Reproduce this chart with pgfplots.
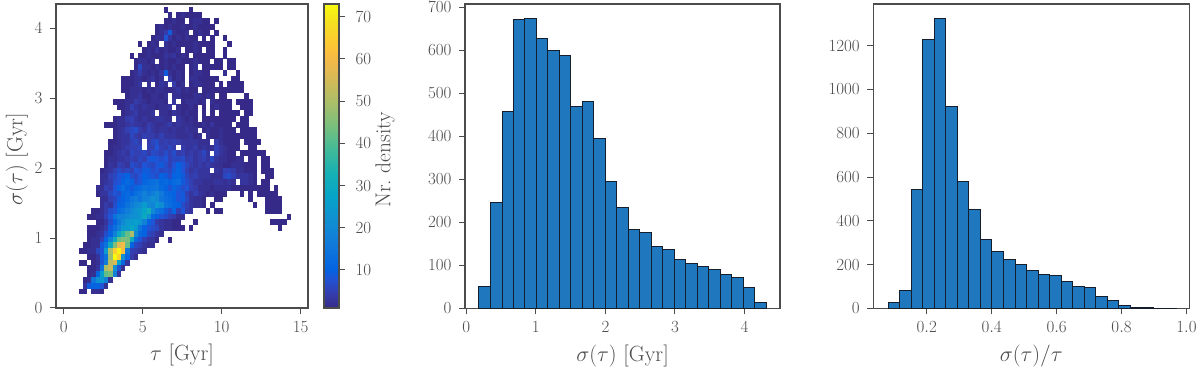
\RequirePackage{fix-cm}
\documentclass[border=0pt]{standalone}
\usepackage{pgfplots}
\usepackage{pgfplotstable}
\pgfplotsset{compat=1.18}
\definecolor{txt}{gray}{0.3}
\definecolor{barblue}{RGB}{31,119,190}
\definecolor{baredge}{RGB}{20,30,45}

% one heat map cell, 1pt = 1px of the reference
\pgfdeclareplotmark{cell}{%
  \pgfpathrectangle{\pgfpoint{-2.16pt}{-2.92pt}}{\pgfpoint{4.32pt}{5.84pt}}\pgfusepathqfill}

\pgfplotsset{
  colormap={parula}{
    rgb(1)=(.2081,.1663,.5292) rgb(4)=(.2081,.2386,.6771) rgb(7)=(.1253,.3242,.8303)
    rgb(9)=(.0117,.3875,.8820) rgb(14)=(.0629,.4737,.8554) rgb(19)=(.0641,.5570,.8240)
    rgb(24)=(.0231,.6418,.7913) rgb(29)=(.0843,.6928,.7062) rgb(34)=(.2586,.7317,.5954)
    rgb(39)=(.4871,.7491,.4840) rgb(44)=(.6834,.7435,.4044) rgb(49)=(.8507,.7299,.3360)
    rgb(52)=(.9450,.7261,.2886) rgb(54)=(.9938,.7455,.2403) rgb(57)=(.9880,.8066,.1794)
    rgb(60)=(.9626,.8705,.1309) rgb(64)=(.9763,.9831,.0538)},
  panel/.style={
    scale only axis,
    axis line style={txt,line width=1.2pt},
    tick style={txt,line width=1pt},
    tick align=outside,
    major tick length=6pt,
    xtick pos=bottom, ytick pos=left,
    tick label style={txt,font=\fontsize{17}{20}\selectfont},
    xticklabel style={yshift=-4pt},
    yticklabel style={xshift=-4pt},
    label style={txt,font=\fontsize{22}{26}\selectfont},
    scaled ticks=false,
    /pgf/number format/1000 sep={},
    xlabel style={at={(axis description cs:0.5,-0.155)},anchor=center},
  },
  histbar/.style={ybar interval,fill=barblue,draw=baredge,line width=1pt},
}

% bin index (i: tau, j: sigma) and count of each non empty cell
\pgfplotstableread{
i j c
20 49 1
26 49 1
21 48 1
23 48 1
24 48 2
25 48 1
26 48 1
27 48 1
28 48 1
20 47 1
21 47 1
22 47 2
23 47 1
24 47 1
26 47 1
27 47 2
28 47 2
29 47 1
30 47 1
32 47 1
18 46 1
19 46 2
20 46 1
21 46 2
22 46 1
23 46 1
24 46 2
25 46 1
26 46 1
27 46 2
28 46 1
29 46 1
30 46 1
31 46 1
18 45 1
19 45 2
20 45 4
21 45 9
22 45 2
23 45 1
24 45 1
25 45 2
27 45 1
28 45 2
29 45 1
30 45 1
32 45 1
17 44 1
18 44 2
19 44 2
20 44 8
21 44 3
22 44 1
23 44 2
24 44 1
25 44 2
26 44 1
27 44 1
29 44 1
31 44 1
34 44 1
14 43 1
16 43 1
17 43 2
18 43 1
20 43 2
21 43 1
22 43 2
23 43 1
24 43 1
25 43 1
26 43 1
27 43 2
28 43 1
29 43 1
30 43 1
31 43 1
35 43 1
15 42 1
16 42 2
17 42 1
18 42 3
19 42 1
20 42 2
21 42 1
22 42 1
23 42 2
25 42 1
26 42 1
27 42 2
28 42 1
30 42 1
31 42 1
34 42 1
12 41 1
14 41 1
15 41 1
16 41 2
17 41 1
18 41 1
19 41 1
20 41 3
21 41 2
22 41 3
23 41 1
24 41 2
25 41 1
27 41 1
28 41 1
29 41 1
30 41 1
31 41 1
34 41 1
13 40 1
14 40 2
15 40 2
16 40 1
17 40 2
19 40 1
20 40 2
21 40 1
22 40 1
23 40 2
24 40 1
25 40 1
26 40 1
27 40 2
28 40 1
29 40 1
30 40 1
32 40 1
33 40 1
35 40 1
36 40 1
13 39 1
14 39 6
15 39 2
16 39 2
17 39 1
18 39 2
19 39 1
20 39 2
21 39 1
22 39 2
23 39 1
24 39 1
26 39 1
27 39 2
29 39 1
30 39 1
31 39 1
32 39 1
33 39 1
35 39 1
36 39 1
12 38 1
13 38 2
14 38 4
15 38 2
16 38 1
17 38 2
18 38 1
19 38 3
20 38 9
21 38 2
22 38 1
23 38 2
24 38 1
26 38 1
27 38 2
28 38 2
29 38 1
30 38 1
34 38 2
37 38 1
10 37 1
11 37 1
12 37 1
13 37 2
14 37 2
15 37 1
16 37 2
17 37 3
18 37 1
19 37 2
21 37 4
22 37 1
23 37 2
24 37 1
26 37 2
27 37 2
28 37 1
29 37 1
30 37 1
31 37 1
32 37 1
36 37 1
37 37 1
10 36 1
11 36 1
12 36 1
13 36 2
14 36 3
16 36 2
18 36 1
19 36 3
20 36 2
22 36 4
23 36 1
24 36 2
26 36 1
27 36 2
28 36 2
29 36 1
30 36 1
31 36 1
33 36 1
35 36 1
36 36 1
37 36 1
38 36 1
10 35 1
11 35 1
12 35 2
13 35 2
14 35 2
15 35 1
16 35 2
17 35 1
18 35 2
19 35 2
20 35 1
21 35 1
22 35 2
23 35 3
24 35 1
25 35 2
26 35 1
27 35 1
29 35 1
30 35 1
31 35 1
32 35 1
33 35 1
34 35 1
35 35 1
36 35 1
37 35 1
38 35 1
11 34 1
12 34 2
13 34 2
14 34 3
15 34 1
16 34 1
17 34 2
18 34 2
19 34 1
20 34 2
22 34 2
23 34 2
24 34 1
25 34 1
26 34 1
27 34 2
28 34 2
29 34 1
30 34 2
31 34 1
33 34 1
34 34 1
39 34 1
8 33 1
9 33 1
10 33 1
11 33 2
12 33 2
13 33 4
14 33 3
15 33 2
16 33 1
17 33 2
18 33 2
19 33 2
20 33 1
22 33 3
24 33 1
25 33 2
26 33 2
27 33 2
28 33 1
29 33 2
31 33 2
32 33 1
33 33 1
34 33 1
35 33 1
37 33 1
38 33 1
39 33 1
40 33 1
9 32 1
10 32 1
11 32 2
12 32 5
13 32 3
14 32 2
15 32 3
16 32 2
17 32 2
18 32 1
19 32 2
20 32 2
21 32 3
23 32 2
24 32 1
25 32 1
26 32 2
27 32 1
29 32 1
31 32 1
32 32 2
33 32 1
34 32 1
35 32 1
38 32 1
39 32 1
40 32 1
10 31 1
11 31 2
12 31 3
13 31 4
14 31 2
15 31 2
16 31 2
17 31 3
19 31 2
20 31 2
21 31 1
22 31 3
23 31 2
24 31 1
25 31 2
26 31 1
27 31 1
29 31 1
31 31 1
33 31 1
34 31 1
35 31 1
36 31 1
37 31 1
39 31 1
40 31 1
8 30 1
9 30 2
10 30 2
11 30 4
12 30 5
13 30 3
14 30 2
15 30 3
16 30 2
17 30 2
18 30 3
19 30 3
20 30 2
21 30 2
23 30 3
24 30 2
25 30 1
26 30 2
27 30 1
29 30 1
30 30 1
31 30 1
32 30 1
33 30 1
34 30 1
35 30 1
36 30 1
38 30 1
39 30 1
6 29 1
7 29 1
8 29 1
9 29 2
10 29 2
11 29 3
12 29 4
13 29 3
14 29 3
15 29 2
16 29 4
17 29 3
18 29 2
19 29 2
20 29 3
21 29 4
22 29 2
23 29 3
24 29 2
25 29 2
26 29 2
27 29 1
28 29 1
29 29 2
30 29 1
31 29 3
32 29 1
33 29 1
34 29 1
35 29 1
37 29 1
38 29 1
39 29 1
8 28 1
9 28 2
10 28 3
11 28 5
12 28 6
13 28 7
14 28 4
15 28 3
16 28 5
17 28 3
18 28 2
19 28 3
20 28 3
21 28 2
22 28 3
23 28 2
24 28 2
25 28 3
26 28 2
27 28 2
29 28 1
30 28 2
31 28 1
32 28 1
33 28 2
34 28 1
35 28 1
36 28 1
38 28 1
39 28 1
40 28 1
41 28 1
8 27 1
9 27 2
10 27 3
11 27 3
12 27 6
13 27 4
14 27 3
15 27 5
16 27 4
17 27 4
18 27 3
19 27 5
20 27 3
21 27 3
22 27 3
23 27 2
24 27 2
25 27 2
26 27 3
27 27 1
28 27 2
30 27 2
31 27 1
32 27 1
33 27 2
34 27 1
35 27 1
36 27 1
37 27 1
38 27 1
39 27 1
40 27 1
41 27 1
7 26 1
8 26 1
9 26 2
10 26 3
11 26 3
12 26 5
13 26 6
14 26 4
16 26 4
17 26 6
18 26 7
19 26 4
20 26 5
21 26 4
22 26 5
23 26 4
24 26 3
25 26 3
26 26 3
27 26 3
28 26 2
29 26 2
30 26 2
32 26 4
33 26 2
34 26 1
35 26 1
36 26 1
37 26 1
39 26 1
40 26 1
41 26 1
42 26 1
7 25 1
8 25 2
9 25 2
10 25 3
11 25 4
12 25 5
13 25 5
14 25 6
16 25 5
17 25 5
18 25 8
19 25 5
20 25 4
21 25 6
22 25 4
24 25 4
25 25 3
26 25 3
27 25 4
28 25 2
29 25 3
30 25 2
31 25 2
32 25 5
33 25 3
34 25 2
35 25 1
36 25 1
37 25 1
40 25 1
41 25 1
6 24 1
7 24 1
8 24 2
9 24 3
10 24 4
11 24 3
12 24 6
13 24 5
14 24 5
15 24 6
16 24 4
17 24 7
18 24 6
19 24 5
20 24 7
21 24 5
22 24 7
23 24 4
24 24 5
25 24 3
26 24 4
27 24 3
28 24 4
29 24 6
30 24 3
32 24 5
33 24 3
34 24 2
35 24 1
36 24 1
38 24 1
39 24 1
40 24 1
41 24 1
42 24 1
43 24 1
6 23 1
7 23 2
8 23 2
9 23 3
10 23 3
11 23 4
12 23 5
13 23 4
14 23 6
15 23 5
16 23 8
17 23 9
18 23 8
19 23 7
20 23 8
21 23 5
22 23 6
23 23 6
24 23 7
25 23 4
26 23 5
27 23 3
28 23 4
29 23 5
30 23 3
31 23 6
32 23 3
33 23 2
34 23 2
35 23 1
36 23 1
37 23 2
38 23 2
40 23 1
41 23 1
43 23 1
44 23 1
6 22 1
7 22 3
8 22 2
9 22 5
10 22 4
11 22 3
12 22 7
13 22 6
14 22 5
15 22 8
16 22 7
17 22 6
18 22 8
19 22 9
20 22 7
21 22 5
22 22 8
23 22 10
24 22 8
25 22 6
26 22 4
27 22 3
28 22 4
29 22 3
30 22 4
31 22 3
32 22 2
33 22 2
34 22 1
35 22 1
36 22 2
37 22 2
38 22 2
39 22 1
40 22 1
41 22 1
43 22 1
44 22 1
5 21 1
6 21 2
7 21 3
8 21 5
9 21 7
10 21 5
11 21 6
12 21 5
13 21 8
14 21 7
15 21 9
16 21 9
17 21 7
18 21 8
19 21 6
20 21 7
21 21 6
22 21 9
23 21 11
24 21 8
25 21 5
26 21 3
27 21 4
28 21 3
29 21 3
30 21 3
32 21 3
33 21 2
34 21 5
35 21 5
36 21 4
37 21 2
38 21 2
39 21 1
40 21 1
41 21 1
43 21 1
44 21 1
45 21 1
5 20 2
6 20 2
7 20 5
8 20 6
9 20 8
10 20 9
11 20 10
12 20 7
13 20 6
14 20 8
15 20 10
16 20 9
17 20 8
18 20 7
19 20 10
20 20 9
21 20 7
22 20 10
23 20 11
24 20 9
25 20 6
26 20 4
27 20 5
28 20 3
29 20 3
30 20 3
31 20 2
32 20 2
33 20 2
34 20 6
35 20 7
36 20 5
37 20 3
38 20 3
39 20 3
40 20 2
41 20 1
44 20 1
45 20 1
5 19 2
6 19 3
7 19 4
8 19 7
9 19 8
10 19 10
11 19 12
12 19 10
13 19 7
14 19 8
15 19 11
16 19 12
17 19 13
18 19 14
19 19 11
20 19 12
21 19 10
22 19 12
23 19 13
24 19 9
25 19 7
26 19 5
27 19 3
28 19 3
29 19 2
30 19 2
31 19 2
32 19 3
33 19 3
34 19 2
35 19 3
36 19 2
38 19 3
39 19 3
40 19 2
41 19 1
43 19 1
44 19 1
4 18 2
5 18 2
6 18 5
7 18 4
8 18 8
9 18 10
10 18 13
11 18 10
12 18 9
13 18 11
14 18 12
15 18 14
16 18 13
17 18 14
18 18 15
19 18 12
20 18 10
21 18 8
22 18 11
23 18 9
24 18 7
25 18 8
26 18 5
27 18 4
28 18 2
29 18 2
30 18 2
31 18 1
32 18 2
33 18 2
34 18 2
35 18 2
36 18 1
37 18 1
38 18 1
39 18 1
40 18 1
41 18 1
42 18 1
43 18 1
44 18 1
46 18 1
4 17 1
5 17 3
6 17 3
7 17 6
8 17 8
9 17 7
10 17 11
11 17 12
12 17 10
13 17 13
14 17 15
15 17 18
16 17 15
17 17 17
18 17 20
19 17 16
20 17 12
21 17 11
22 17 10
23 17 8
24 17 9
25 17 5
26 17 3
27 17 5
28 17 3
29 17 2
30 17 1
31 17 2
32 17 1
33 17 1
34 17 1
38 17 1
40 17 1
42 17 1
43 17 1
44 17 1
45 17 1
46 17 1
5 16 2
6 16 2
7 16 5
8 16 6
9 16 9
10 16 10
11 16 12
12 16 15
13 16 17
14 16 14
15 16 18
16 16 19
17 16 22
18 16 20
19 16 15
20 16 13
21 16 12
22 16 10
23 16 8
24 16 9
25 16 6
26 16 3
27 16 2
28 16 2
29 16 1
32 16 1
33 16 1
40 16 1
44 16 1
45 16 1
46 16 1
47 16 1
5 15 2
6 15 4
7 15 3
8 15 7
9 15 10
10 15 11
11 15 14
12 15 17
13 15 20
14 15 21
15 15 25
16 15 20
17 15 19
18 15 24
19 15 21
20 15 14
21 15 13
22 15 11
23 15 10
24 15 7
25 15 5
26 15 3
27 15 2
28 15 2
29 15 1
31 15 1
41 15 1
44 15 1
45 15 1
46 15 1
47 15 1
3 14 1
4 14 1
5 14 2
6 14 4
7 14 7
8 14 8
9 14 12
10 14 14
11 14 17
12 14 20
13 14 23
14 14 24
15 14 28
16 14 32
17 14 20
18 14 15
19 14 13
20 14 9
21 14 7
22 14 11
23 14 5
24 14 8
25 14 4
26 14 3
30 14 1
32 14 1
33 14 1
44 14 1
45 14 1
46 14 1
47 14 1
2 13 1
3 13 1
4 13 2
5 13 2
6 13 5
7 13 8
8 13 14
9 13 18
10 13 18
11 13 20
12 13 22
13 13 22
14 13 24
15 13 30
16 13 22
17 13 12
18 13 10
19 13 8
20 13 7
21 13 5
22 13 4
23 13 2
24 13 2
49 13 1
4 12 1
5 12 1
6 12 3
7 12 7
8 12 10
9 12 15
10 12 20
11 12 24
12 12 25
13 12 26
14 12 24
15 12 18
16 12 10
17 12 8
18 12 4
19 12 3
20 12 2
21 12 2
22 12 1
23 12 1
27 12 1
45 12 1
46 12 1
47 12 1
48 12 1
2 11 1
3 11 1
4 11 1
5 11 2
6 11 4
7 11 9
8 11 13
9 11 18
10 11 24
11 11 25
12 11 28
13 11 25
14 11 15
15 11 10
16 11 8
17 11 7
18 11 6
19 11 3
20 11 2
21 11 2
22 11 1
23 11 1
24 11 1
26 11 1
47 11 1
2 10 1
3 10 1
4 10 2
5 10 3
6 10 7
7 10 10
8 10 18
9 10 28
10 10 35
11 10 42
12 10 50
13 10 20
14 10 12
15 10 10
16 10 6
17 10 5
18 10 3
19 10 2
2 9 1
3 9 2
4 9 2
5 9 5
6 9 10
7 9 18
8 9 30
9 9 42
10 9 45
11 9 44
12 9 30
13 9 12
14 9 8
15 9 5
16 9 3
17 9 3
18 9 1
21 9 1
1 8 1
2 8 1
3 8 2
4 8 2
5 8 9
6 8 14
7 8 30
8 8 45
9 8 57
10 8 60
11 8 42
12 8 10
13 8 6
14 8 5
15 8 3
16 8 2
17 8 2
0 7 1
1 7 1
2 7 2
3 7 2
4 7 6
5 7 8
6 7 25
7 7 50
8 7 65
9 7 72
10 7 62
11 7 15
12 7 5
13 7 4
14 7 3
15 7 2
2 6 1
3 6 1
4 6 3
5 6 9
6 6 14
7 6 48
8 6 73
9 6 66
10 6 22
11 6 11
12 6 4
13 6 2
0 5 1
1 5 1
3 5 1
4 5 2
5 5 8
6 5 17
7 5 52
8 5 56
9 5 27
10 5 11
11 5 3
2 4 1
3 4 1
4 4 3
5 4 14
6 4 50
7 4 54
8 4 22
9 4 8
10 4 2
2 3 1
3 3 2
4 3 11
5 3 26
6 3 42
7 3 44
8 3 18
9 3 3
1 2 1
2 2 2
3 2 15
4 2 22
5 2 24
6 2 18
7 2 2
1 1 3
2 1 9
3 1 10
4 1 10
5 1 8
6 1 2
0 0 1
1 0 1
3 0 2
4 0 2
5 0 1
}\cells

\begin{document}
\begin{tikzpicture}
\useasboundingbox (0,0) rectangle (1200pt,374pt);

\begin{axis}[
  panel, at={(56pt,66pt)}, anchor=south west,
  width=252pt, height=304pt,
  xmin=-0.487, xmax=15.46, ymin=0, ymax=4.35,
  xtick={0,5,10,15}, ytick={0,1,2,3,4},
  xlabel={$\tau$ [Gyr]},
  ylabel={$\sigma(\tau)$ [Gyr]},
  ylabel style={at={(axis description cs:-0.155,0.49)},anchor=center},
  colormap name=parula,
  point meta min=1, point meta max=73,
  colorbar,
  colorbar style={
    at={(1.0635,1)}, anchor=north west,
    width=15pt, height=304pt, scale only axis,
    axis line style={txt,line width=1.2pt},
    tick style={txt,line width=1pt},
    tick align=outside, major tick length=6pt,
    ytick={10,20,30,40,50,60,70},
    ytick pos=right, yticklabel pos=right,
    tick label style={txt,font=\fontsize{17}{20}\selectfont},
    yticklabel style={xshift=7pt},
    ylabel={Nr.\ density},
    ylabel style={txt,font=\fontsize{21.5}{26}\selectfont,
      at={(axis description cs:4.07,0.487)},anchor=center},
  },
]
\addplot[scatter, only marks, mark=cell, scatter src=explicit]
  table[x expr={0.95+0.2686*(\thisrow{i}+0.5)},
        y expr={0.196+0.0823*(\thisrow{j}+0.5)}, meta=c] {\cells};
\end{axis}

\begin{axis}[
  panel, at={(465pt,65.5pt)}, anchor=south west,
  width=315pt, height=304.5pt,
  xmin=-0.019, xmax=4.51, ymin=0, ymax=707,
  xtick={0,1,2,3,4}, ytick={0,100,...,700},
  xlabel={$\sigma(\tau)$ [Gyr]},
]
\addplot[histbar] coordinates {
  (0.182,51) (0.347,247) (0.513,458) (0.678,671) (0.843,673)
  (1.009,627) (1.174,600) (1.339,587) (1.504,470) (1.670,480)
  (1.835,395) (2.000,294) (2.166,234) (2.331,183) (2.496,176)
  (2.662,145) (2.827,137) (2.992,114) (3.157,104) (3.323,97)
  (3.488,91) (3.653,79) (3.819,73) (3.984,49) (4.149,15) (4.315,15)};
\end{axis}

\begin{axis}[
  panel, at={(873.3pt,65.5pt)}, anchor=south west,
  width=316pt, height=304.5pt,
  xmin=0.0356, xmax=1.0085, ymin=0, ymax=1390,
  xtick={0.2,0.4,0.6,0.8,1.0}, ytick={0,200,...,1200},
  xticklabel style={/pgf/number format/fixed,/pgf/number format/fixed zerofill,/pgf/number format/precision=1},
  xlabel={$\sigma(\tau)/\tau$},
]
\addplot[histbar] coordinates {
  (0.082,29) (0.117,80) (0.153,543) (0.188,1230) (0.224,1323)
  (0.259,921) (0.295,579) (0.330,450) (0.366,315) (0.401,260)
  (0.437,222) (0.472,202) (0.508,175) (0.543,154) (0.579,150)
  (0.614,122) (0.650,100) (0.685,94) (0.721,55) (0.756,36)
  (0.792,15) (0.827,4) (0.863,4) (0.898,1) (0.934,1) (0.969,1)};
\end{axis}
\end{tikzpicture}
\end{document}
